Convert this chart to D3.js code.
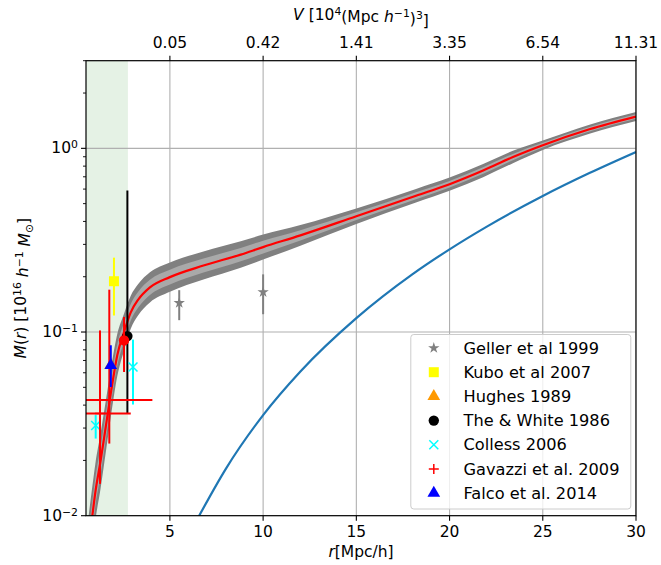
<!DOCTYPE html>
<html>
<head>
<meta charset="utf-8">
<script src="https://cdn.jsdelivr.net/npm/d3@7"></script>
<style>
  body { margin: 0; background: #fff; }
  svg { font-family: "DejaVu Sans", sans-serif; }
</style>
</head>
<body>
<script>
let width = 661;
let height = 565;

// profile: radius grid, mean mass and band spreads (dex)
const rGrid = [0.55, 0.84, 1.0, 1.29, 1.56, 1.83, 2.18, 2.54, 2.9, 3.3, 3.93, 5.0, 6.8, 8.8, 10, 12, 15, 18.2, 20, 21.8, 23.4, 25, 27.5, 30];
const meanM = [0.0058, 0.0100, 0.0134, 0.0201, 0.0305, 0.0463, 0.075, 0.100, 0.128, 0.150, 0.175, 0.199, 0.230, 0.264, 0.290, 0.336, 0.427, 0.552, 0.638, 0.757, 0.897, 1.04, 1.27, 1.49];
const outerDex = [0.16, 0.16, 0.155, 0.15, 0.14, 0.13, 0.115, 0.10, 0.09, 0.085, 0.082, 0.08, 0.076, 0.072, 0.068, 0.056, 0.042, 0.037, 0.036, 0.036, 0.034, 0.026, 0.025, 0.025];
const innerDex = [0.08, 0.08, 0.078, 0.075, 0.07, 0.065, 0.058, 0.05, 0.045, 0.043, 0.041, 0.04, 0.038, 0.036, 0.035, 0.028, 0.021, 0.019, 0.018, 0.018, 0.017, 0.013, 0.0125, 0.0125];

// blue curve
const blueR = [6.5, 8, 10, 12, 15, 18, 20, 22, 25, 27.5, 30];
const blueM = [0.0097, 0.018, 0.0353, 0.061, 0.119, 0.206, 0.282, 0.375, 0.55, 0.733, 0.955];

// observations
const gellerR = [5.5, 10], gellerM = [0.144, 0.165], gellerLo = [0.116, 0.125], gellerHi = [0.169, 0.206];
const kuboR = [2.0], kuboM = [0.189], kuboLo = [0.123], kuboHi = [0.254];
const hughesR = [1.83], hughesM = [0.066];
const theWhiteR = [2.72], theWhiteM = [0.095], theWhiteLo = [0.036], theWhiteHi = [0.589];
const collessR = [1.02, 3.02], collessM = [0.031, 0.0645], collessLo = [0.0263, 0.0403], collessHi = [0.0353, 0.0909];
const gavazziR = [1.25, 1.75], gavazziM = [0.036, 0.0426], gavazziRErr = [1.65, 2.31], gavazziLo = [0.0149, 0.0247], gavazziHi = [0.102, 0.170];
const extraR = [2.54], extraM = [0.090], extraLo = [0.0606], extraHi = [0.1207];
const falcoR = [1.83], falcoM = [0.0659], falcoLo = [0.0502], falcoHi = [0.0847];

const xTicks = [5, 10, 15, 20, 25, 30];
const vTickLabels = ["0.05", "0.42", "1.41", "3.35", "6.54", "11.31"];
const legendLabels = ["Geller et al 1999", "Kubo et al 2007", "Hughes 1989", "The & White 1986", "Colless 2006", "Gavazzi et al. 2009", "Falco et al. 2014"];
const shadedRange = [0.5, 2.75];

let margin = { left: 86, right: 636, top: 60.7, bottom: 515.7 };
let fs = 15.5;

let svg = d3.select("body").append("svg")
    .attr("width", width)
    .attr("height", height);

let x = d3.scaleLinear().domain([0.5, 30]).range([margin.left, margin.right]);
let y = d3.scaleLog().domain([0.01, 3]).range([margin.bottom, margin.top]);

svg.append("clipPath").attr("id", "clip")
  .append("rect")
    .attr("x", margin.left).attr("y", margin.top)
    .attr("width", margin.right - margin.left)
    .attr("height", margin.bottom - margin.top);

let plot = svg.append("g").attr("clip-path", "url(#clip)");

// shaded region
plot.append("rect")
    .attr("x", x(shadedRange[0]))
    .attr("width", x(shadedRange[1]) - x(shadedRange[0]))
    .attr("y", margin.top)
    .attr("height", margin.bottom - margin.top)
    .attr("fill", "green")
    .attr("fill-opacity", 0.1);

// grid
plot.selectAll(".vgrid").data(xTicks).enter().append("line")
    .attr("x1", d => x(d)).attr("x2", d => x(d))
    .attr("y1", margin.top).attr("y2", margin.bottom)
    .attr("stroke", "#b0b0b0").attr("stroke-width", 1.1);
plot.selectAll(".hgrid").data([0.01, 0.1, 1]).enter().append("line")
    .attr("x1", margin.left).attr("x2", margin.right)
    .attr("y1", d => y(d)).attr("y2", d => y(d))
    .attr("stroke", "#b0b0b0").attr("stroke-width", 1.1);

let profile = rGrid.map((r, i) => ({ r: r, m: meanM[i], o: outerDex[i], n: innerDex[i] }));

let outerArea = d3.area()
    .x(d => x(d.r))
    .y0(d => y(d.m / Math.pow(10, d.o)))
    .y1(d => y(d.m * Math.pow(10, d.o)))
    .curve(d3.curveMonotoneX);
let innerArea = d3.area()
    .x(d => x(d.r))
    .y0(d => y(d.m / Math.pow(10, d.n)))
    .y1(d => y(d.m * Math.pow(10, d.n)))
    .curve(d3.curveMonotoneX);

plot.append("path").datum(profile).attr("d", outerArea).attr("fill", "#808080");
plot.append("path").datum(profile).attr("d", innerArea).attr("fill", "#a9a9a9");

let line = d3.line().x(d => x(d.r)).y(d => y(d.m)).curve(d3.curveMonotoneX);
plot.append("path").datum(profile).attr("d", line)
    .attr("fill", "none").attr("stroke", "#ff0000").attr("stroke-width", 2.2);

let blue = blueR.map((r, i) => ({ r: r, m: blueM[i] }));
plot.append("path").datum(blue).attr("d", line)
    .attr("fill", "none").attr("stroke", "#1f77b4").attr("stroke-width", 2.2);

// error bars + markers
function vbars(rs, lo, hi, color) {
    rs.forEach((r, i) => {
        plot.append("line")
            .attr("x1", x(r)).attr("x2", x(r))
            .attr("y1", y(lo[i])).attr("y2", y(hi[i]))
            .attr("stroke", color).attr("stroke-width", 2);
    });
}

function marker(g, type, color, cx, cy) {
    if (type === "x") {
        let s = 4.5;
        g.append("path")
            .attr("d", `M${cx - s},${cy - s}L${cx + s},${cy + s}M${cx - s},${cy + s}L${cx + s},${cy - s}`)
            .attr("stroke", color).attr("stroke-width", 1.5).attr("fill", "none");
    } else if (type === "+") {
        let s = 5;
        g.append("path")
            .attr("d", `M${cx - s},${cy}L${cx + s},${cy}M${cx},${cy - s}L${cx},${cy + s}`)
            .attr("stroke", color).attr("stroke-width", 1.5).attr("fill", "none");
    } else {
        let sym = { star: d3.symbolStar, square: d3.symbolSquare, tri: d3.symbolTriangle, circle: d3.symbolCircle }[type];
        let size = { star: 40, square: 100, tri: 70, circle: 85 }[type];
        g.append("path")
            .attr("d", d3.symbol().type(sym).size(size)())
            .attr("transform", `translate(${cx},${cy})`)
            .attr("fill", color);
    }
}

function points(rs, ms, type, color) {
    rs.forEach((r, i) => marker(plot, type, color, x(r), y(ms[i])));
}

vbars(gellerR, gellerLo, gellerHi, "#808080");
points(gellerR, gellerM, "star", "#808080");

vbars(kuboR, kuboLo, kuboHi, "#ffff00");
points(kuboR, kuboM, "square", "#ffff00");

points(hughesR, hughesM, "tri", "#ff9900");

vbars(theWhiteR, theWhiteLo, theWhiteHi, "#000000");
points(theWhiteR, theWhiteM, "circle", "#000000");

vbars(collessR, collessLo, collessHi, "#00ffff");
points(collessR, collessM, "x", "#00ffff");

vbars(gavazziR, gavazziLo, gavazziHi, "#ff0000");
gavazziR.forEach((r, i) => {
    plot.append("line")
        .attr("x1", x(r - gavazziRErr[i])).attr("x2", x(r + gavazziRErr[i]))
        .attr("y1", y(gavazziM[i])).attr("y2", y(gavazziM[i]))
        .attr("stroke", "#ff0000").attr("stroke-width", 2);
});
points(gavazziR, gavazziM, "+", "#ff0000");

vbars(extraR, extraLo, extraHi, "#ff0000");
points(extraR, extraM, "circle", "#ff0000");

vbars(falcoR, falcoLo, falcoHi, "#0000ff");
points(falcoR, falcoM, "tri", "#0000ff");

// spines
svg.append("rect")
    .attr("x", margin.left).attr("y", margin.top)
    .attr("width", margin.right - margin.left)
    .attr("height", margin.bottom - margin.top)
    .attr("fill", "none").attr("stroke", "#000").attr("stroke-width", 1.2);

// bottom axis
let xAxis = svg.append("g").attr("transform", `translate(0,${margin.bottom})`);
xTicks.forEach(t => {
    xAxis.append("line").attr("x1", x(t)).attr("x2", x(t)).attr("y1", 0).attr("y2", 5)
        .attr("stroke", "#000").attr("stroke-width", 1.1);
    xAxis.append("text").attr("x", x(t)).attr("y", 21).attr("text-anchor", "middle")
        .attr("font-size", fs).text(t);
});
let xl = svg.append("text").attr("x", (margin.left + margin.right) / 2).attr("y", 557)
    .attr("text-anchor", "middle").attr("font-size", fs);
xl.append("tspan").attr("font-style", "italic").text("r");
xl.append("tspan").text("[Mpc/h]");

// top axis
let topAxis = svg.append("g").attr("transform", `translate(0,${margin.top})`);
xTicks.forEach((t, i) => {
    topAxis.append("line").attr("x1", x(t)).attr("x2", x(t)).attr("y1", 0).attr("y2", -5)
        .attr("stroke", "#000").attr("stroke-width", 1.1);
    topAxis.append("text").attr("x", x(t)).attr("y", -13).attr("text-anchor", "middle")
        .attr("font-size", fs).text(vTickLabels[i]);
});
let tl = svg.append("text").attr("x", (margin.left + margin.right) / 2).attr("y", 20)
    .attr("text-anchor", "middle").attr("font-size", fs);
tl.append("tspan").attr("font-style", "italic").text("V");
tl.append("tspan").text(" [10");
tl.append("tspan").attr("dy", "-0.45em").attr("font-size", "0.7em").text("4");
tl.append("tspan").attr("dy", "0.45em").text("(Mpc ");
tl.append("tspan").attr("font-style", "italic").text("h");
tl.append("tspan").attr("dy", "-0.45em").attr("font-size", "0.7em").text("\u22121");
tl.append("tspan").attr("dy", "0.45em").text(")");
tl.append("tspan").attr("dy", "-0.45em").attr("font-size", "0.7em").text("3");
tl.append("tspan").attr("dy", "0.45em").text("]");

// left axis
let yAxis = svg.append("g");
[0.01, 0.1, 1].forEach((t, i) => {
    yAxis.append("line").attr("x1", margin.left).attr("x2", margin.left - 5)
        .attr("y1", y(t)).attr("y2", y(t)).attr("stroke", "#000").attr("stroke-width", 1.1);
    let lab = yAxis.append("text").attr("x", margin.left - 8).attr("y", y(t) + 5)
        .attr("text-anchor", "end").attr("font-size", fs);
    lab.append("tspan").text("10");
    lab.append("tspan").attr("dy", "-0.45em").attr("font-size", "0.7em")
        .text(["\u22122", "\u22121", "0"][i]);
});
let minors = [];
[0.01, 0.1, 1].forEach(dec => { for (let k = 2; k <= 9; k++) if (dec * k <= 3) minors.push(dec * k); });
yAxis.selectAll(".minor").data(minors).enter().append("line")
    .attr("x1", margin.left).attr("x2", margin.left - 3)
    .attr("y1", d => y(d)).attr("y2", d => y(d))
    .attr("stroke", "#000").attr("stroke-width", 0.9);

let yl = svg.append("text")
    .attr("transform", `translate(26,${(margin.top + margin.bottom) / 2}) rotate(-90)`)
    .attr("text-anchor", "middle").attr("font-size", fs);
yl.append("tspan").attr("font-style", "italic").text("M");
yl.append("tspan").text("(");
yl.append("tspan").attr("font-style", "italic").text("r");
yl.append("tspan").text(") [10");
yl.append("tspan").attr("dy", "-0.45em").attr("font-size", "0.7em").text("16");
yl.append("tspan").attr("dy", "0.45em").attr("font-style", "italic").text(" h");
yl.append("tspan").attr("dy", "-0.45em").attr("font-size", "0.7em").text("\u22121");
yl.append("tspan").attr("dy", "0.45em").attr("font-style", "italic").text(" M");
yl.append("tspan").attr("dy", "0.3em").attr("font-size", "0.7em").text("\u2299");
yl.append("tspan").attr("dy", "-0.3em").text("]");

// legend
let legend = svg.append("g");
legend.append("rect")
    .attr("x", 410.8).attr("y", 334.5).attr("width", 220).attr("height", 174.5)
    .attr("rx", 3).attr("fill", "#fff").attr("fill-opacity", 0.8)
    .attr("stroke", "#cccccc").attr("stroke-width", 1);
let legendMarkers = [["star", "#808080"], ["square", "#ffff00"], ["tri", "#ff9900"], ["circle", "#000000"], ["x", "#00ffff"], ["+", "#ff0000"], ["tri", "#0000ff"]];
legendLabels.forEach((lab, i) => {
    let cy = 348 + i * 24.2;
    marker(legend, legendMarkers[i][0], legendMarkers[i][1], 433.8, cy);
    legend.append("text").attr("x", 463.5).attr("y", cy + 5.5).attr("font-size", 16.2).text(lab);
});
</script>
</body>
</html>
